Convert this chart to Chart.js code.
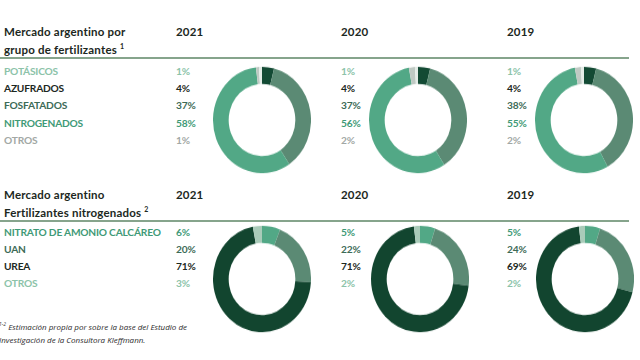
<!DOCTYPE html>
<html>
<head>
<meta charset="utf-8">
<script src="https://cdn.jsdelivr.net/npm/chart.js@4/dist/chart.umd.min.js"></script>
<style>
  body { margin: 0; width: 640px; height: 360px; background: #fff; position: relative; overflow: hidden; font-family: Lato, "Open Sans", sans-serif; }
  .t { position: absolute; white-space: nowrap; font-weight: 700; font-size: 10.2px; line-height: 14px; letter-spacing: -0.2px; }
  .title { color: #1c2822; font-size: 11.5px; line-height: 15px; letter-spacing: 0.2px; }
  .rule { position: absolute; left: 0; width: 629px; height: 2px; background: #86a48c; }
  .donut { position: absolute; width: 98px; height: 98px; transform: scaleY(1.085); }
  .note { position: absolute; left: -1px; font-size: 8px; font-style: italic; color: #2a2a2a; line-height: 13px; font-family: "Open Sans", sans-serif; }
</style>
</head>
<body>
<script>
// datos
const years = ["2021", "2020", "2019"];

const grupoLabels = ["POTÁSICOS", "AZUFRADOS", "FOSFATADOS", "NITROGENADOS", "OTROS"];
const grupo2021 = [1, 4, 37, 58, 1];
const grupo2020 = [1, 4, 37, 56, 2];
const grupo2019 = [1, 4, 38, 55, 2];

const nitroLabels = ["NITRATO DE AMONIO CALCÁREO", "UAN", "UREA", "OTROS"];
const nitro2021 = [6, 20, 71, 3];
const nitro2020 = [5, 22, 71, 2];
const nitro2019 = [5, 24, 69, 2];

// estilos
const grupoText = ["#8cc3a9", "#1c2822", "#3d6b57", "#3f9a77", "#a2a8a5"];
const grupoFill = ["#e4ece7", "#134a34", "#5b8a74", "#52a886", "#bfc9c3"];
const nitroText = ["#3f9a77", "#3d6b57", "#1c2822", "#8cc3a9"];
const nitroFill = ["#52a886", "#5b8a74", "#12452f", "#a9cbb9"];

const colX = [176, 341, 507];

function text(str, x, yc, cls, color) {
  const d = document.createElement("div");
  d.className = "t " + (cls || "");
  d.textContent = str;
  d.style.left = x + "px";
  d.style.top = (yc - 7) + "px";
  if (color) d.style.color = color;
  document.body.appendChild(d);
  return d;
}

function donut(cx, cy, labels, values, colors, order) {
  const box = document.createElement("div");
  box.className = "donut";
  box.style.left = (cx - 49) + "px";
  box.style.top = (cy - 49) + "px";
  const c = document.createElement("canvas");
  box.appendChild(c);
  document.body.appendChild(box);
  new Chart(c, {
    type: "doughnut",
    data: {
      labels: order.map(i => labels[i]),
      datasets: [{
        data: order.map(i => values[i]),
        backgroundColor: order.map(i => colors[i]),
        borderWidth: 0
      }]
    },
    options: {
      responsive: true,
      maintainAspectRatio: false,
      animation: false,
      cutout: "68%",
      plugins: { legend: { display: false }, tooltip: { enabled: false } }
    }
  });
}

function section(top, titleLines, labels, series, textColors, fills, order, rowY, centers, cy) {
  titleLines.forEach((l, i) => {
    const d = text("", 4, top + i * 15, "title");
    d.innerHTML = l;
  });
  years.forEach((y, i) => text(y, colX[i], top, "title"));
  const r = document.createElement("div");
  r.className = "rule";
  r.style.top = (top + 26) + "px";
  document.body.appendChild(r);
  labels.forEach((lab, k) => {
    text(lab, 4, rowY[k], "", textColors[k]);
    series.forEach((vals, i) => text(vals[k] + "%", colX[i], rowY[k], "", textColors[k]));
  });
  series.forEach((vals, i) => donut(centers[i], cy, labels, vals, fills, order));
}

section(31, ["Mercado argentino por", "grupo de fertilizantes <sup style='font-size:7px'>1</sup>"],
  grupoLabels, [grupo2021, grupo2020, grupo2019], grupoText, grupoFill, [1, 2, 3, 4, 0],
  [71, 88, 105, 123, 140], [261.5, 417.5, 584], 120);

section(194, ["Mercado argentino", "Fertilizantes nitrogenados <sup style='font-size:7px'>2</sup>"],
  nitroLabels, [nitro2021, nitro2020, nitro2019], nitroText, nitroFill, [0, 1, 2, 3],
  [232, 249, 266, 283], [262, 420, 585], 279);

const note = document.createElement("div");
note.className = "note";
note.style.top = "318px";
note.innerHTML = "<sup style='font-size:5px'>1-2</sup> Estimación propia por sobre la base del Estudio de<br>Investigación de la Consultora Kleffmann.";
document.body.appendChild(note);
</script>
</body>
</html>
